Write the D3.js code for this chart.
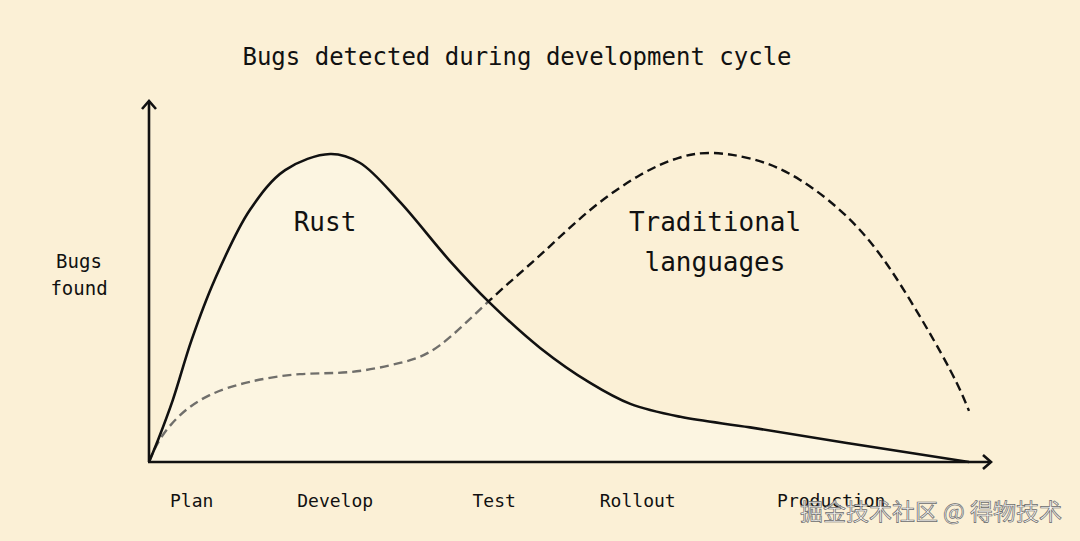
<!DOCTYPE html>
<html>
<head>
<meta charset="utf-8">
<script src="https://cdn.jsdelivr.net/npm/d3@7"></script>
<style>
  html, body { margin: 0; padding: 0; background: #fbf0d6; }
  svg { display: block; }
</style>
</head>
<body>
<div id="chart"></div>
<script>
// progress through the cycle (0..100) and bugs found (0..100)
const rustX = [0, 1.1, 2.9, 5.2, 8, 12.3, 16.6, 22.1, 25.7, 30.6, 36.6, 41.6, 47.7, 53.8, 58.7, 64.8, 73.3, 85.5, 100];
const rustY = [0, 6.3, 17.7, 34.9, 52, 72, 83.4, 88, 85.5, 74.3, 57.7, 45.4, 32.6, 22.6, 16.6, 12.9, 9.9, 5.3, 0];

const tradX = [0, 1.3, 3.8, 7.4, 12.3, 18.4, 24.5, 30.6, 35.5, 41.6, 47.7, 53.8, 59.9, 64.6, 68.5, 73.5, 79.4, 86.7, 92.8, 97.7, 100];
const tradY = [0, 6.3, 13.4, 19.1, 22.9, 25.1, 25.7, 28.3, 33.4, 46.3, 59.1, 72, 82, 86.9, 88.3, 86.6, 80.6, 66.3, 46.3, 26.3, 14.6];

const stages = ["Plan", "Develop", "Test", "Rollout", "Production"];
const stagePos = [5.2, 22.7, 42.1, 59.6, 83.2];

const title = "Bugs detected during development cycle";
const yLabel = ["Bugs", "found"];
const watermark = "掘金技术社区 @ 得物技术";

const width = 1080,
	height = 541,
	mono = "'DejaVu Sans Mono', 'Liberation Mono', monospace",
	ink = "#111";

const x = d3.scaleLinear().domain([0, 100]).range([149, 969]);
const y = d3.scaleLinear().domain([0, 100]).range([462, 112]);

const rust = rustX.map((v, i) => [v, rustY[i]]);
const trad = tradX.map((v, i) => [v, tradY[i]]);

const svg = d3
	.select("#chart")
	.append("svg")
	.attr("width", width)
	.attr("height", height);

svg.append("rect").attr("width", width).attr("height", height).attr("fill", "#fbf0d6");

const curve = d3.curveCatmullRom.alpha(0.5);

const line = d3
	.line()
	.x((d) => x(d[0]))
	.y((d) => y(d[1]))
	.curve(curve);

const area = d3
	.area()
	.x((d) => x(d[0]))
	.y0(y(0))
	.y1((d) => y(d[1]))
	.curve(curve);

// traditional languages goes under the rust fill, so it looks grey there
svg
	.append("path")
	.attr("d", line.curve(d3.curveNatural)(trad))
	.attr("fill", "none")
	.attr("stroke", ink)
	.attr("stroke-width", 2.4)
	.attr("stroke-dasharray", "9,5");
line.curve(curve);

svg
	.append("path")
	.attr("d", area(rust))
	.attr("fill", "#fffcf2")
	.attr("fill-opacity", 0.4);

svg
	.append("path")
	.attr("d", line(rust))
	.attr("fill", "none")
	.attr("stroke", ink)
	.attr("stroke-width", 2.6);

// axes with open arrow heads
const ax = svg.append("g").attr("stroke", ink).attr("stroke-width", 2.6).attr("fill", "none");
ax.append("line").attr("x1", x(0)).attr("y1", y(0)).attr("x2", x(0)).attr("y2", 101);
ax.append("line").attr("x1", x(0) - 1).attr("y1", y(0)).attr("x2", 991).attr("y2", y(0));
ax.append("path")
	.attr("d", `M${x(0) - 7},${109} L${x(0)},${101} L${x(0) + 7},${109}`)
	.attr("stroke-linejoin", "miter");
ax.append("path")
	.attr("d", `M${983},${y(0) - 7} L${991},${y(0)} L${983},${y(0) + 7}`)
	.attr("stroke-linejoin", "miter");

// stage labels
svg
	.selectAll(".stage")
	.data(stages)
	.enter()
	.append("text")
	.attr("class", "stage")
	.attr("x", (d, i) => x(stagePos[i]))
	.attr("y", 507)
	.attr("text-anchor", "middle")
	.attr("font-family", mono)
	.attr("font-size", 18)
	.attr("fill", ink)
	.text((d) => d);

svg
	.append("text")
	.attr("x", 517)
	.attr("y", 65)
	.attr("text-anchor", "middle")
	.attr("font-family", mono)
	.attr("font-size", 24)
	.attr("fill", ink)
	.text(title);

svg
	.selectAll(".ylab")
	.data(yLabel)
	.enter()
	.append("text")
	.attr("class", "ylab")
	.attr("x", 79)
	.attr("y", (d, i) => 268 + i * 27)
	.attr("text-anchor", "middle")
	.attr("font-family", mono)
	.attr("font-size", 19)
	.attr("fill", ink)
	.text((d) => d);

svg
	.append("text")
	.attr("x", 325)
	.attr("y", 231)
	.attr("text-anchor", "middle")
	.attr("font-family", mono)
	.attr("font-size", 26)
	.attr("fill", ink)
	.text("Rust");

svg
	.selectAll(".trad")
	.data(["Traditional", "languages"])
	.enter()
	.append("text")
	.attr("class", "trad")
	.attr("x", 715)
	.attr("y", (d, i) => 231 + i * 40)
	.attr("text-anchor", "middle")
	.attr("font-family", mono)
	.attr("font-size", 26)
	.attr("fill", ink)
	.text((d) => d);

svg
	.append("text")
	.attr("x", 1062)
	.attr("y", 520)
	.attr("text-anchor", "end")
	.attr("font-family", "'Noto Sans CJK SC', sans-serif")
	.attr("font-size", 23)
	.attr("fill", "#f6f6f6")
	.attr("stroke", "#6a6a6a")
	.attr("stroke-width", 0.7)
	.attr("fill-opacity", 0.9)
	.text(watermark);
</script>
</body>
</html>
